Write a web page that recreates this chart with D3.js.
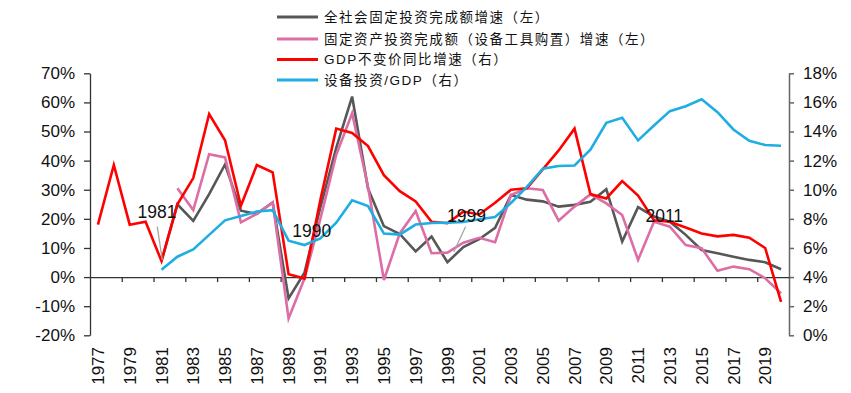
<!DOCTYPE html>
<html>
<head>
<meta charset="utf-8">
<script src="https://cdn.jsdelivr.net/npm/d3@7"></script>
<style>
  html, body { margin: 0; padding: 0; background: #fff; }
  svg { display: block; }
  text { font-family: "Liberation Sans", Arial, "Noto Sans CJK SC", sans-serif; fill: #111; }
</style>
</head>
<body>
<svg id="chart" width="851" height="393"></svg>
<script>
// ---------------- data ----------------
const years = d3.range(1977, 2021).map(String);

// 全社会固定投资完成额增速（左）, %
const totalFAI = [null, null, null, null, 5.5, 25.0, 19.3, 28.5, 38.7, 22.8, 21.7, 25.6,
  -7.3, 1.5, 23.9, 44.4, 62.0, 30.4, 17.5, 14.8, 8.8, 13.9, 5.1, 10.3, 13.0, 16.9,
  28.2, 26.6, 26.0, 24.2, 24.8, 25.9, 30.2, 12.2, 24.0, 20.8, 19.0, 14.5, 9.3, 8.2,
  7.0, 5.9, 5.1, 2.7];

// 固定资产投资完成额（设备工具购置）增速（左）, %
const equipFAI = [null, null, null, null, null, 30.5, 23.0, 42.2, 41.1, 18.8, 21.7, 25.6,
  -14.2, -0.5, 20.0, 42.0, 56.3, 31.0, -1.0, 15.0, 22.7, 8.2, 8.4, 11.8, 13.5, 12.0,
  28.2, 30.5, 29.9, 19.4, 24.2, 28.4, 25.3, 21.3, 5.9, 19.0, 17.3, 11.0, 9.9, 2.2,
  3.6, 2.7, -0.4, -5.6];

// GDP不变价同比增速（右）, %
const gdpGrowth = [7.6, 11.7, 7.6, 7.8, 5.1, 9.0, 10.8, 15.2, 13.4, 8.9, 11.7, 11.2,
  4.2, 3.9, 9.3, 14.2, 13.9, 13.0, 11.0, 9.9, 9.2, 7.8, 7.7, 8.5, 8.3, 9.1,
  10.0, 10.1, 11.4, 12.7, 14.2, 9.7, 9.4, 10.6, 9.6, 7.9, 7.8, 7.4, 7.0, 6.8,
  6.9, 6.7, 6.0, 2.3];

// 设备投资/GDP（右）, %
const equipToGDP = [null, null, null, null, 4.5, 5.4, 5.9, 6.9, 7.9, 8.2, 8.5, 8.6,
  6.5, 6.2, 6.65, 7.74, 9.27, 8.88, 6.99, 6.92, 7.61, 7.72, 7.74, 7.79, 7.97, 8.13,
  9.09, 10.19, 11.44, 11.63, 11.67, 12.75, 14.6, 14.94, 13.39, 14.41, 15.4, 15.74, 16.22, 15.33,
  14.14, 13.36, 13.07, 13.02];

const leftTicks = [-20, -10, 0, 10, 20, 30, 40, 50, 60, 70];
const rightTicks = [0, 2, 4, 6, 8, 10, 12, 14, 16, 18];
const labelYears = years.filter((y, i) => i % 2 === 0);

const seriesNames = [
  "全社会固定投资完成额增速（左）",
  "固定资产投资完成额（设备工具购置）增速（左）",
  "GDP不变价同比增速（右）",
  "设备投资/GDP（右）"
];
const annotations = ["1981", "1990", "1999", "2011"];

// ---------------- layout ----------------
const L = 90, R = 789, T = 73.3, B = 335.3;
const colors = ["#575757", "#dc6ea5", "#ff0000", "#1eaee2"];

const svg = d3.select("#chart");

const x = d3.scaleBand().domain(years).range([L, R]).padding(0);
const xEdge = d3.scaleLinear().domain([0, years.length]).range([L, R]);
const yL = d3.scaleLinear().domain([-20, 70]).range([B, T]);
const yR = d3.scaleLinear().domain([0, 18]).range([B, T]);
const cx = d => x(d) + x.bandwidth() / 2;

// left axis
const gL = svg.append("g").attr("transform", `translate(${L},0)`)
  .call(d3.axisLeft(yL).tickValues(leftTicks).tickSize(6).tickSizeOuter(0).tickPadding(9)
    .tickFormat(d => d + "%"));
gL.select(".domain").attr("stroke", "#333").attr("stroke-width", 1.3);
gL.selectAll(".tick line").attr("stroke", "#333").attr("stroke-width", 1.3);
gL.selectAll("text").attr("font-size", 17).attr("fill", "#111");

// right axis
const gR = svg.append("g").attr("transform", `translate(${R},0)`)
  .call(d3.axisRight(yR).tickValues(rightTicks).tickSize(5).tickSizeOuter(0).tickPadding(9)
    .tickFormat(d => d + "%"));
gR.select(".domain").attr("stroke", "#666").attr("stroke-width", 1.5);
gR.selectAll(".tick line").attr("stroke", "#666").attr("stroke-width", 1.5);
gR.selectAll("text").attr("font-size", 17).attr("fill", "#111");

// x axis at 0 of left scale: line + tick marks at band boundaries every 2 years
const gX = svg.append("g").attr("transform", `translate(0,${yL(0)})`)
  .call(d3.axisBottom(xEdge).tickValues(d3.range(2, years.length, 2)).tickSize(5)
    .tickSizeOuter(0).tickFormat(""));
gX.select(".domain").attr("stroke", "#333").attr("stroke-width", 1.3);
gX.selectAll(".tick line").attr("stroke", "#333").attr("stroke-width", 1.3);

// x labels at bottom, rotated
const gXL = svg.append("g").attr("transform", `translate(0,347)`)
  .call(d3.axisBottom(x).tickValues(labelYears).tickSize(0).tickSizeOuter(0));
gXL.select(".domain").remove();
gXL.selectAll("text")
  .attr("transform", "rotate(-90)")
  .attr("x", 0).attr("y", 0).attr("dy", "0.36em")
  .attr("text-anchor", "end")
  .attr("font-size", 17).attr("fill", "#111");

// lines
const lineL = d3.line().defined(d => d[1] !== null).x(d => cx(d[0])).y(d => yL(d[1]));
const lineR = d3.line().defined(d => d[1] !== null).x(d => cx(d[0])).y(d => yR(d[1]));
const zip = arr => years.map((y, i) => [y, arr[i]]);

const seriesDefs = [
  { data: totalFAI, line: lineL },
  { data: equipFAI, line: lineL },
  { data: gdpGrowth, line: lineR },
  { data: equipToGDP, line: lineR }
];
seriesDefs.forEach((s, i) => {
  svg.append("path")
    .datum(zip(s.data))
    .attr("fill", "none")
    .attr("stroke", colors[i])
    .attr("stroke-width", 2.6)
    .attr("stroke-linejoin", "miter")
    .attr("d", s.line);
});

// annotations (year labels), positioned relative to the year's band
const annoLayout = {
  "1981": { dx: -4.5, y: 218, leader: [[-4.2, 226.7], [0.8, 260]] },
  "1990": { dx: 7.2, y: 237 },
  "1999": { dx: 19, y: 222, leader: [[18.1, 226.7], [6.4, 251.7]] },
  "2011": { dx: 26.2, y: 222 }
};
annotations.forEach(a => {
  const lay = annoLayout[a];
  const c = cx(a);
  if (lay.leader) {
    svg.append("line")
      .attr("x1", c + lay.leader[0][0]).attr("y1", lay.leader[0][1])
      .attr("x2", c + lay.leader[1][0]).attr("y2", lay.leader[1][1])
      .attr("stroke", "#a6a6a6").attr("stroke-width", 1.3);
  }
  svg.append("text")
    .attr("x", c + lay.dx).attr("y", lay.y)
    .attr("text-anchor", "middle")
    .attr("font-size", 17.5)
    .attr("fill", "#111")
    .text(a);
});

// legend
const legendRows = [16.9, 39, 59.5, 80];
const lg = svg.append("g");
seriesNames.forEach((name, i) => {
  lg.append("line")
    .attr("x1", 277).attr("x2", 318)
    .attr("y1", legendRows[i]).attr("y2", legendRows[i])
    .attr("stroke", colors[i]).attr("stroke-width", 3);
  lg.append("text")
    .attr("x", 324).attr("y", legendRows[i])
    .attr("dy", "0.36em")
    .attr("font-size", 13.5)
    .attr("letter-spacing", "1.55px")
    .attr("fill", "#222")
    .text(name);
});
</script>
</body>
</html>
